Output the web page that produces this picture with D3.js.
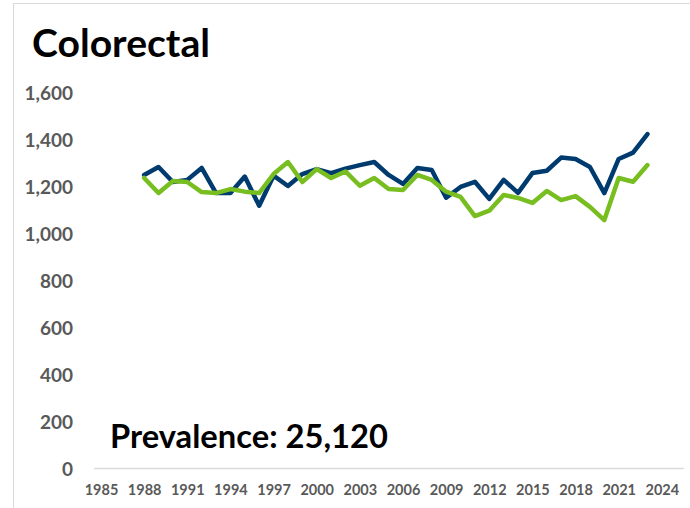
<!DOCTYPE html>
<html>
<head>
<meta charset="utf-8">
<script src="https://cdn.jsdelivr.net/npm/d3@7"></script>
<style>
  html, body { margin: 0; padding: 0; background: #fff; }
  svg { display: block; }
  text { font-family: Lato, "Open Sans", sans-serif; font-weight: 700; }
</style>
</head>
<body>
<svg id="chart" width="690" height="508"></svg>
<script>
// Colorectal: yearly counts for two series, 1988–2023
const years = d3.range(1988, 2024);
const seriesNavy = [1247, 1281, 1217, 1226, 1277, 1170, 1170, 1240, 1116, 1244,
                    1200, 1251, 1272, 1255, 1274, 1289, 1302, 1247, 1209, 1277,
                    1268, 1150, 1196, 1218, 1145, 1226, 1171, 1255, 1265, 1321,
                    1315, 1281, 1170, 1315, 1342, 1421];
const seriesGreen = [1234, 1170, 1221, 1217, 1174, 1170, 1187, 1176, 1170, 1251,
                     1302, 1217, 1272, 1234, 1262, 1201, 1234, 1187, 1183, 1247,
                     1226, 1176, 1154, 1072, 1095, 1162, 1149, 1128, 1179, 1140,
                     1157, 1111, 1055, 1234, 1218, 1289];
const yTicks = [0, 200, 400, 600, 800, 1000, 1200, 1400, 1600];
const xTicks = d3.range(1985, 2025, 3);
const titleText = "Colorectal";
const prevalenceText = "Prevalence: 25,120";

const svg = d3.select("#chart");

// outer chart border
svg.append("rect")
  .attr("x", 13.5).attr("y", 3.5)
  .attr("width", 700).attr("height", 600)
  .attr("fill", "none").attr("stroke", "#d9d9d9").attr("stroke-width", 1);

const x = d3.scaleLinear().domain([1984.5, 2025.5]).range([93.8, 683.4]);
const y = d3.scaleLinear().domain([0, 1600]).range([468, 92]);

// title
svg.append("text")
  .attr("x", 32).attr("y", 57)
  .attr("font-size", 39).attr("fill", "#000")
  .attr("textLength", 178).attr("lengthAdjust", "spacingAndGlyphs")
  .text(titleText);

// y axis labels (no axis line)
const yAxis = d3.axisLeft(y).tickValues(yTicks).tickSize(0).tickPadding(0)
  .tickFormat(d3.format(","));
const gy = svg.append("g").attr("transform", "translate(73,0)").call(yAxis);
gy.select(".domain").remove();
gy.selectAll("text")
  .attr("font-size", 19).attr("fill", "#595959")
  .attr("font-family", "Lato, sans-serif").attr("font-weight", 700)
  .attr("dy", "0.42em");

// x axis baseline and labels
const xAxis = d3.axisBottom(x).tickValues(xTicks).tickSize(0).tickPadding(0)
  .tickFormat(d3.format("d"));
const gx = svg.append("g").attr("transform", `translate(0,${y(0)})`).call(xAxis);
gx.select(".domain").attr("stroke", "#d9d9d9").attr("stroke-width", 1.5);
gx.selectAll("text")
  .attr("font-size", 14.5).attr("fill", "#595959")
  .attr("font-family", "Lato, sans-serif").attr("font-weight", 700)
  .attr("y", 27).attr("dy", null);

// series lines
const line = d3.line().x((d, i) => x(years[i])).y(d => y(d));
svg.append("path").datum(seriesNavy)
  .attr("d", line).attr("fill", "none")
  .attr("stroke", "#003b6f").attr("stroke-width", 4.5)
  .attr("stroke-linejoin", "round").attr("stroke-linecap", "round");
svg.append("path").datum(seriesGreen)
  .attr("d", line).attr("fill", "none")
  .attr("stroke", "#78be20").attr("stroke-width", 4.5)
  .attr("stroke-linejoin", "round").attr("stroke-linecap", "round");

// prevalence annotation
svg.append("text")
  .attr("x", 110).attr("y", 448)
  .attr("font-size", 32.5).attr("fill", "#000")
  .attr("textLength", 278).attr("lengthAdjust", "spacingAndGlyphs")
  .text(prevalenceText);
</script>
</body>
</html>
